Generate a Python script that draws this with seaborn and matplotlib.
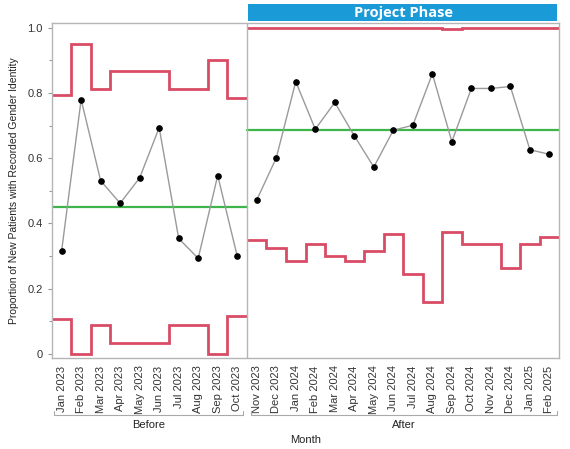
import numpy as np
import pandas as pd
import seaborn as sns
import matplotlib.pyplot as plt
from matplotlib.patches import Rectangle

# monthly proportions (p-chart)
months = ['Jan 2023', 'Feb 2023', 'Mar 2023', 'Apr 2023', 'May 2023', 'Jun 2023',
          'Jul 2023', 'Aug 2023', 'Sep 2023', 'Oct 2023',
          'Nov 2023', 'Dec 2023', 'Jan 2024', 'Feb 2024', 'Mar 2024', 'Apr 2024',
          'May 2024', 'Jun 2024', 'Jul 2024', 'Aug 2024', 'Sep 2024', 'Oct 2024',
          'Nov 2024', 'Dec 2024', 'Jan 2025', 'Feb 2025']
phase = ['Before'] * 10 + ['After'] * 16
proportion = [0.316, 0.780, 0.531, 0.462, 0.540, 0.694, 0.354, 0.293, 0.547, 0.300,
              0.472, 0.601, 0.835, 0.689, 0.771, 0.669, 0.573, 0.686, 0.701, 0.859,
              0.651, 0.814, 0.814, 0.820, 0.626, 0.612]
ucl = [0.793, 0.950, 0.813, 0.867, 0.867, 0.867, 0.813, 0.813, 0.901, 0.784,
       1.0, 1.0, 1.0, 1.0, 1.0, 1.0, 1.0, 1.0, 1.0, 1.0, 0.996, 1.0, 1.0, 1.0, 1.0, 1.0]
lcl = [0.107, 0.0, 0.088, 0.035, 0.035, 0.035, 0.088, 0.088, 0.0, 0.116,
       0.348, 0.326, 0.284, 0.338, 0.300, 0.284, 0.315, 0.367, 0.244, 0.158,
       0.374, 0.338, 0.338, 0.265, 0.338, 0.358]
center = {'Before': 0.451, 'After': 0.688}

df = pd.DataFrame({'month': months, 'phase': phase, 'p': proportion,
                   'ucl': ucl, 'lcl': lcl})
df['x'] = np.arange(len(df))

sns.set_style('white')
plt.rcParams['font.family'] = ['Liberation Sans', 'DejaVu Sans']

fig = plt.figure(figsize=(5.7, 4.49), dpi=100)
ax = fig.add_axes([0.091, 0.203, 0.890, 0.746])

red = '#d94c65'
green = '#3db54a'

for ph in ['Before', 'After']:
    sub = df[df.phase == ph]
    edges = np.arange(sub.x.min(), sub.x.max() + 2) - 0.5
    ax.stairs(sub.ucl, edges, color=red, lw=2, baseline=None)
    ax.stairs(sub.lcl, edges, color=red, lw=2, baseline=None)
    ax.plot([edges[0], edges[-1]], [center[ph]] * 2, color=green, lw=1.6)
    sns.lineplot(data=sub, x='x', y='p', color='#9a9a9a', lw=1, ax=ax,
                 marker='o', markersize=4, markerfacecolor='black',
                 markeredgecolor='black')

ax.axvline(9.5, color='#b5b5b5', lw=1)
ax.set_xlim(-0.5, len(months) - 0.5)
ax.set_ylim(-0.012, 1.015)
ax.set_xticks(df.x)
ax.set_xticklabels(months, rotation=90, fontsize=8, color='#333333')
ax.set_yticks([0, 0.2, 0.4, 0.6, 0.8, 1.0])
ax.set_yticklabels(['0', '0.2', '0.4', '0.6', '0.8', '1.0'], fontsize=8, color='#333333')
ax.set_yticks(np.arange(0.1, 1.0, 0.2), minor=True)
ax.tick_params(axis='y', which='both', left=True, length=3, color='#999999', width=0.8)
ax.tick_params(axis='y', which='minor', length=2)
ax.tick_params(axis='x', bottom=False, pad=2)
ax.set_xlabel('')
ax.set_ylabel('Proportion of New Patients with Recorded Gender Identity',
              fontsize=7.5, color='#222222', labelpad=6)
for s in ax.spines.values():
    s.set_color('#b5b5b5')
    s.set_linewidth(1)

# phase brackets below the month labels
tr = ax.get_xaxis_transform()
for x0, x1, lab in [(-0.4, 9.3, 'Before'), (9.7, 25.4, 'After')]:
    ax.plot([x0, x0, x1, x1], [-0.16, -0.17, -0.17, -0.16], transform=tr,
            color='#aaaaaa', lw=0.8, clip_on=False)
    ax.text((x0 + x1) / 2, -0.185, lab, transform=tr, ha='center', va='top',
            fontsize=8, color='#222222')
ax.text(0.5, -0.23, 'Month', transform=ax.transAxes, ha='center', va='top',
        fontsize=8, color='#222222')

# project phase banner over the after panel
ax.add_patch(Rectangle((9.55, 1.006), 15.85, 0.051, transform=tr,
                       fc='#1a9ad6', ec='none', clip_on=False))
ax.text(17.5, 1.031, 'Project Phase', transform=tr, ha='center', va='center',
        fontsize=10.5, fontweight='bold', color='white', family='Open Sans')

fig.savefig('out.png', dpi=100)
